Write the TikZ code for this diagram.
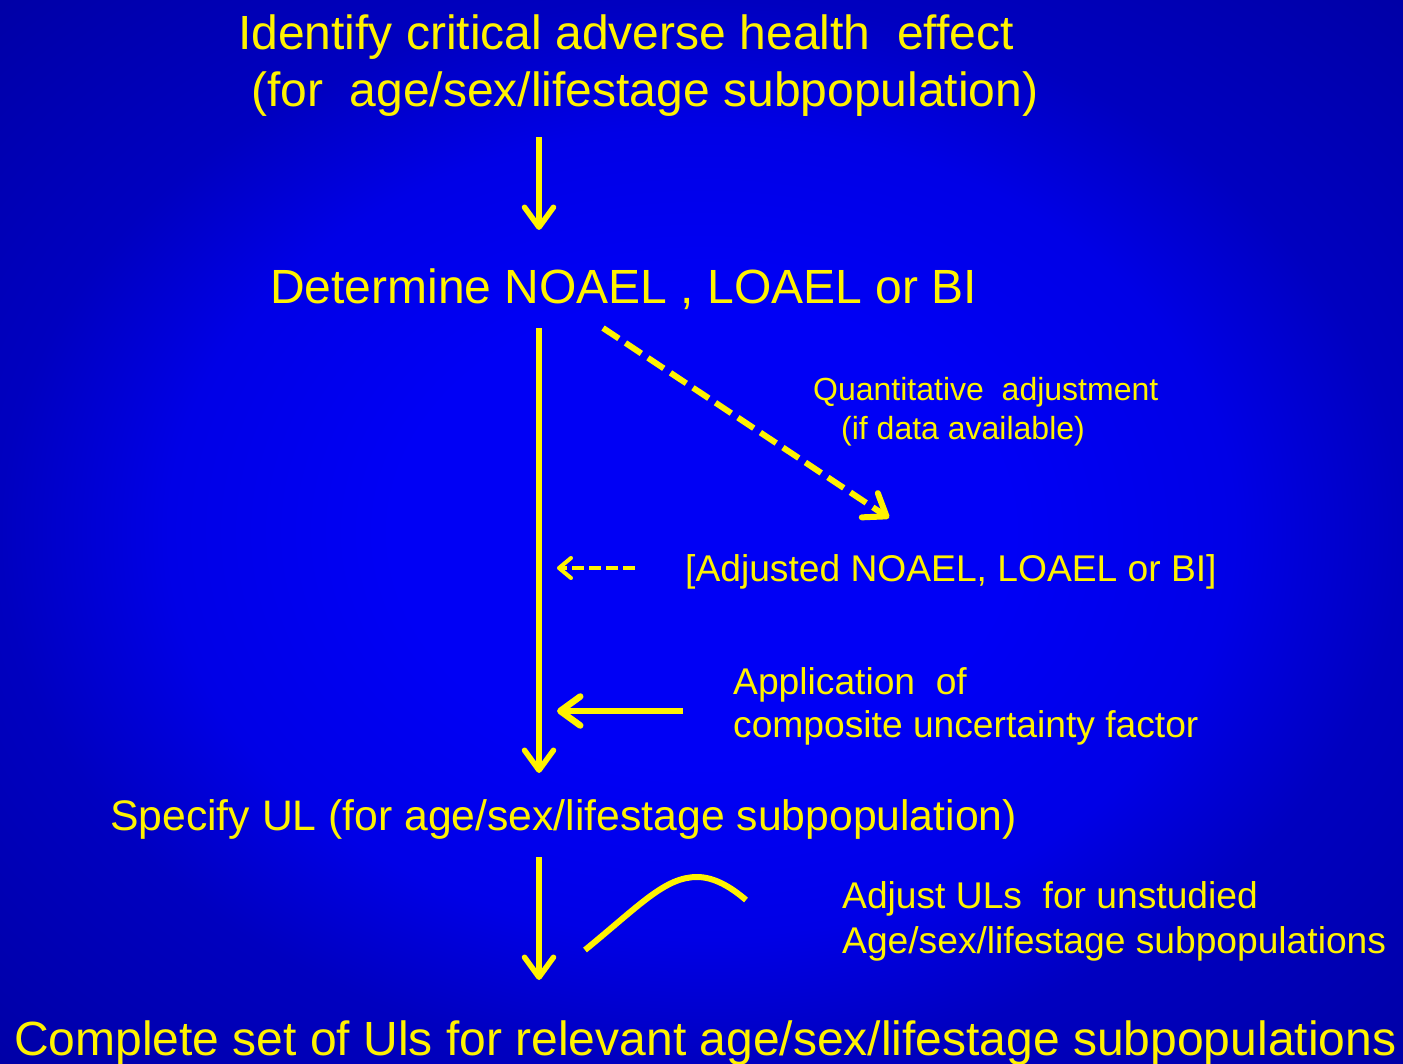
\documentclass[tikz,border=0pt]{standalone}
\usepackage{fontspec}
\setmainfont{Liberation Sans}
\usetikzlibrary{arrows.meta}
\definecolor{glowc}{RGB}{0,0,245}
\definecolor{glowm}{RGB}{0,0,230}
\definecolor{glowr}{RGB}{0,0,192}
\definecolor{glowe}{RGB}{0,0,165}
\pgfdeclareradialshading{slideglow}{\pgfpoint{0bp}{0bp}}{color(0bp)=(glowc); color(11bp)=(glowc); color(19bp)=(glowm); color(25bp)=(glowr); color(36bp)=(glowe); color(50bp)=(glowe)}
\tikzset{
  lbl/.style={text=yellow, inner sep=0pt, anchor=base west},
  headtxt/.style={lbl, font=\fontsize{48}{57}\selectfont},
  ultxt/.style={lbl, font=\fontsize{42.7}{50}\selectfont},
  sidetxt/.style={lbl, font=\fontsize{37.2}{44}\selectfont},
  notetxt/.style={lbl, font=\fontsize{32}{38}\selectfont},
  flow/.style={draw=yellow, line width=5.5pt, -{Straight Barb[length=20pt,width=29pt,round]}},
  guess/.style={flow, line width=6pt, dash pattern=on 19pt off 8pt},
  back/.style={flow, line width=4pt, dash pattern=on 12pt off 5pt, -{Straight Barb[length=12pt,width=20pt,round]}},
  push/.style={flow, line width=6.5pt}
}
\begin{document}
\begin{tikzpicture}[x=1pt,y=-1pt]
  \useasboundingbox (0,0) rectangle (1403,1064);
  \shade[shading=slideglow] (0,0) rectangle (1403,1064);
  % texts
  \node[headtxt] (id1) at (238,50) {Identify critical adverse health\ \ effect};
  \node[headtxt] (id2) at (251,107) {(for\ \ age/sex/lifestage subpopulation)};
  \node[headtxt] (det) at (270,304) {Determine NOAEL , LOAEL or BI};
  \node[notetxt] (q1) at (813,401) {Quantitative\ \ adjustment};
  \node[notetxt] (q2) at (841,439) {(if data available)};
  \node[sidetxt] (adj) at (685,581) {[Adjusted NOAEL, LOAEL or BI]};
  \node[sidetxt] (app1) at (733,694) {Application\ \ of};
  \node[sidetxt] (app2) at (733,737) {composite uncertainty factor};
  \node[ultxt] (ul) at (110,830) {Specify UL (for age/sex/lifestage subpopulation)};
  \node[sidetxt] (au1) at (842,908) {Adjust ULs\ \ for unstudied};
  \node[sidetxt] (au2) at (842,953) {Age/sex/lifestage subpopulations};
  \node[headtxt] (all) at (14,1055) {Complete set of Uls for relevant age/sex/lifestage subpopulations};
  % arrow ends
  \coordinate (s1) at (539,137);
  \coordinate (e1) at (539,230);
  \coordinate (s2) at (539,328);
  \coordinate (e2) at (539,773);
  \coordinate (s3) at (603,328);
  \coordinate (e3) at (889,518);
  \coordinate (s4) at (635,568);
  \coordinate (e4) at (557,568);
  \coordinate (s5) at (683,711);
  \coordinate (e5) at (557,711);
  \coordinate (s6) at (539,857);
  \coordinate (e6) at (539,980);
  \coordinate (c1) at (585,950);
  \coordinate (c2) at (697,877);
  \coordinate (c3) at (746,900);
  % arrows
  \draw[flow] (s1) -- (e1);
  \draw[flow] (s2) -- (e2);
  \draw[guess] (s3) -- (e3);
  \draw[back] (s4) -- (e4);
  \draw[push] (s5) -- (e5);
  \draw[flow] (s6) -- (e6);
  \draw[yellow, line width=6pt] (c1) .. controls (640,905) and (665,877) .. (c2)
    .. controls (715,877) and (732,888) .. (c3);
\end{tikzpicture}
\end{document}
